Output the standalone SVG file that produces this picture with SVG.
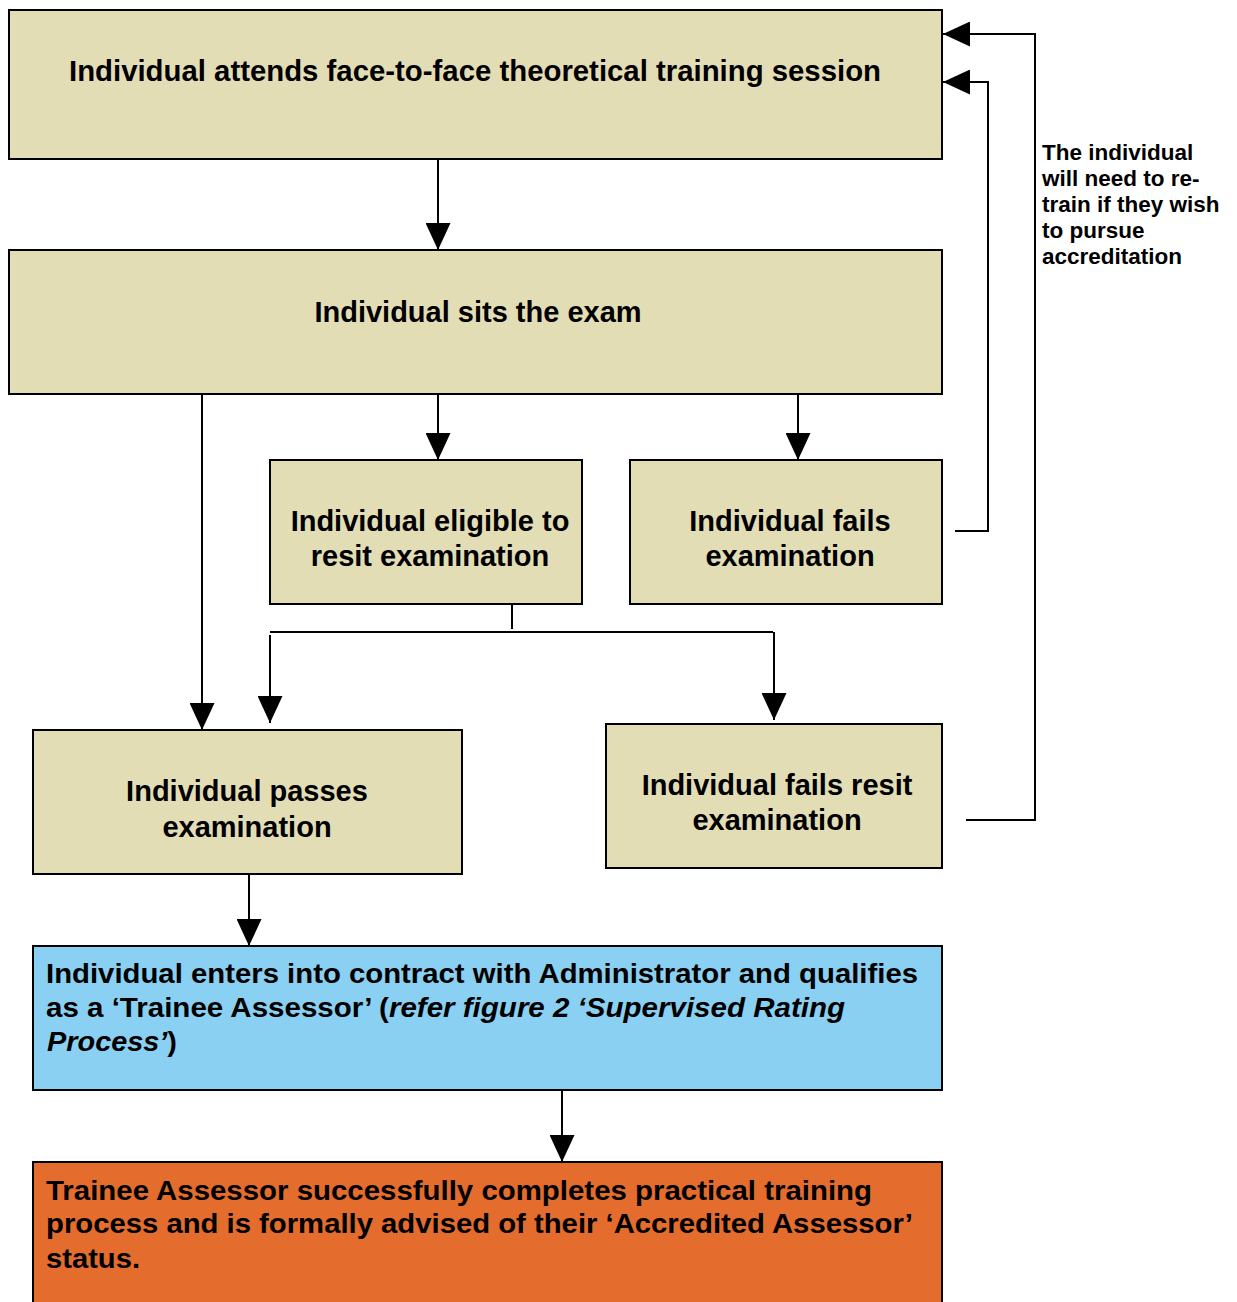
<svg xmlns="http://www.w3.org/2000/svg" width="1237" height="1302" viewBox="0 0 1237 1302">
<defs>
<style>
.box{fill:#e3ddb5;stroke:#000;stroke-width:2}
.blue{fill:#8ad0f2;stroke:#000;stroke-width:2}
.orange{fill:#e46c2d;stroke:#000;stroke-width:2}
.t{font-family:"Liberation Sans",Arial,Helvetica,sans-serif;font-weight:bold;font-size:27px;fill:#000}
.b{font-size:29px}
.c{text-anchor:middle}
.s{font-family:"Liberation Sans",Arial,Helvetica,sans-serif;font-weight:bold;font-size:22.5px;fill:#000}
.ln{fill:none;stroke:#000;stroke-width:2}
</style>
<marker id="ah" markerWidth="27" markerHeight="25" refX="27" refY="12.5" orient="auto" markerUnits="userSpaceOnUse">
<path d="M0,0 L27,12.5 L0,25 Z" fill="#000"/>
</marker>
</defs>
<g id="connectors">
<path class="ln" d="M438,155 V250" marker-end="url(#ah)"/>
<path class="ln" d="M438,394 V460" marker-end="url(#ah)"/>
<path class="ln" d="M798,394 V460" marker-end="url(#ah)"/>
<path class="ln" d="M202,394 V730" marker-end="url(#ah)"/>
<path class="ln" d="M512,604 V629"/>
<path class="ln" d="M270,632 H773"/>
<path class="ln" d="M270,635 V723" marker-end="url(#ah)"/>
<path class="ln" d="M774,632 V720" marker-end="url(#ah)"/>
<path class="ln" d="M249,874 V946" marker-end="url(#ah)"/>
<path class="ln" d="M562,1090 V1162" marker-end="url(#ah)"/>
<path class="ln" d="M955,531 H988 V82 H943" marker-end="url(#ah)"/>
<path class="ln" d="M966,820 H1035 V34 H943" marker-end="url(#ah)"/>
</g>
<g id="n1"><rect class="box" x="9" y="10" width="933" height="149"/>
<text class="t b c" x="475" y="81" textLength="812" lengthAdjust="spacingAndGlyphs">Individual attends face-to-face theoretical training session</text></g>
<g id="n2"><rect class="box" x="9" y="250" width="933" height="144"/>
<text class="t b c" x="478" y="322">Individual sits the exam</text></g>
<g id="n3"><rect class="box" x="270" y="460" width="312" height="144"/>
<text class="t b c" x="430" y="531">Individual eligible to</text>
<text class="t b c" x="430" y="566">resit examination</text></g>
<g id="n4"><rect class="box" x="630" y="460" width="312" height="144"/>
<text class="t b c" x="790" y="531">Individual fails</text>
<text class="t b c" x="790" y="566">examination</text></g>
<g id="n5"><rect class="box" x="33" y="730" width="429" height="144"/>
<text class="t b c" x="247" y="801">Individual passes</text>
<text class="t b c" x="247" y="837">examination</text></g>
<g id="n6"><rect class="box" x="606" y="724" width="336" height="144"/>
<text class="t b c" x="777" y="795">Individual fails resit</text>
<text class="t b c" x="777" y="830">examination</text></g>
<g id="n7"><rect class="blue" x="33" y="946" width="909" height="144"/>
<text class="t" x="46" y="983" textLength="872" lengthAdjust="spacingAndGlyphs">Individual enters into contract with Administrator and qualifies</text>
<text class="t" x="46" y="1017" textLength="799" lengthAdjust="spacingAndGlyphs">as a ‘Trainee Assessor’ (<tspan font-style="italic">refer figure 2 ‘Supervised Rating</tspan></text>
<text class="t" x="47" y="1051" textLength="130" lengthAdjust="spacingAndGlyphs"><tspan font-style="italic">Process’</tspan>)</text></g>
<g id="n8"><rect class="orange" x="33" y="1162" width="909" height="150"/>
<text class="t" x="46" y="1200" textLength="826" lengthAdjust="spacingAndGlyphs">Trainee Assessor successfully completes practical training</text>
<text class="t" x="46" y="1233" textLength="867" lengthAdjust="spacingAndGlyphs">process and is formally advised of their ‘Accredited Assessor’</text>
<text class="t" x="46" y="1268" textLength="94" lengthAdjust="spacingAndGlyphs">status.</text></g>
<g id="note">
<text class="s" x="1042" y="160">The individual</text>
<text class="s" x="1042" y="186">will need to re-</text>
<text class="s" x="1042" y="212">train if they wish</text>
<text class="s" x="1042" y="238">to pursue</text>
<text class="s" x="1042" y="264">accreditation</text>
</g>
</svg>
